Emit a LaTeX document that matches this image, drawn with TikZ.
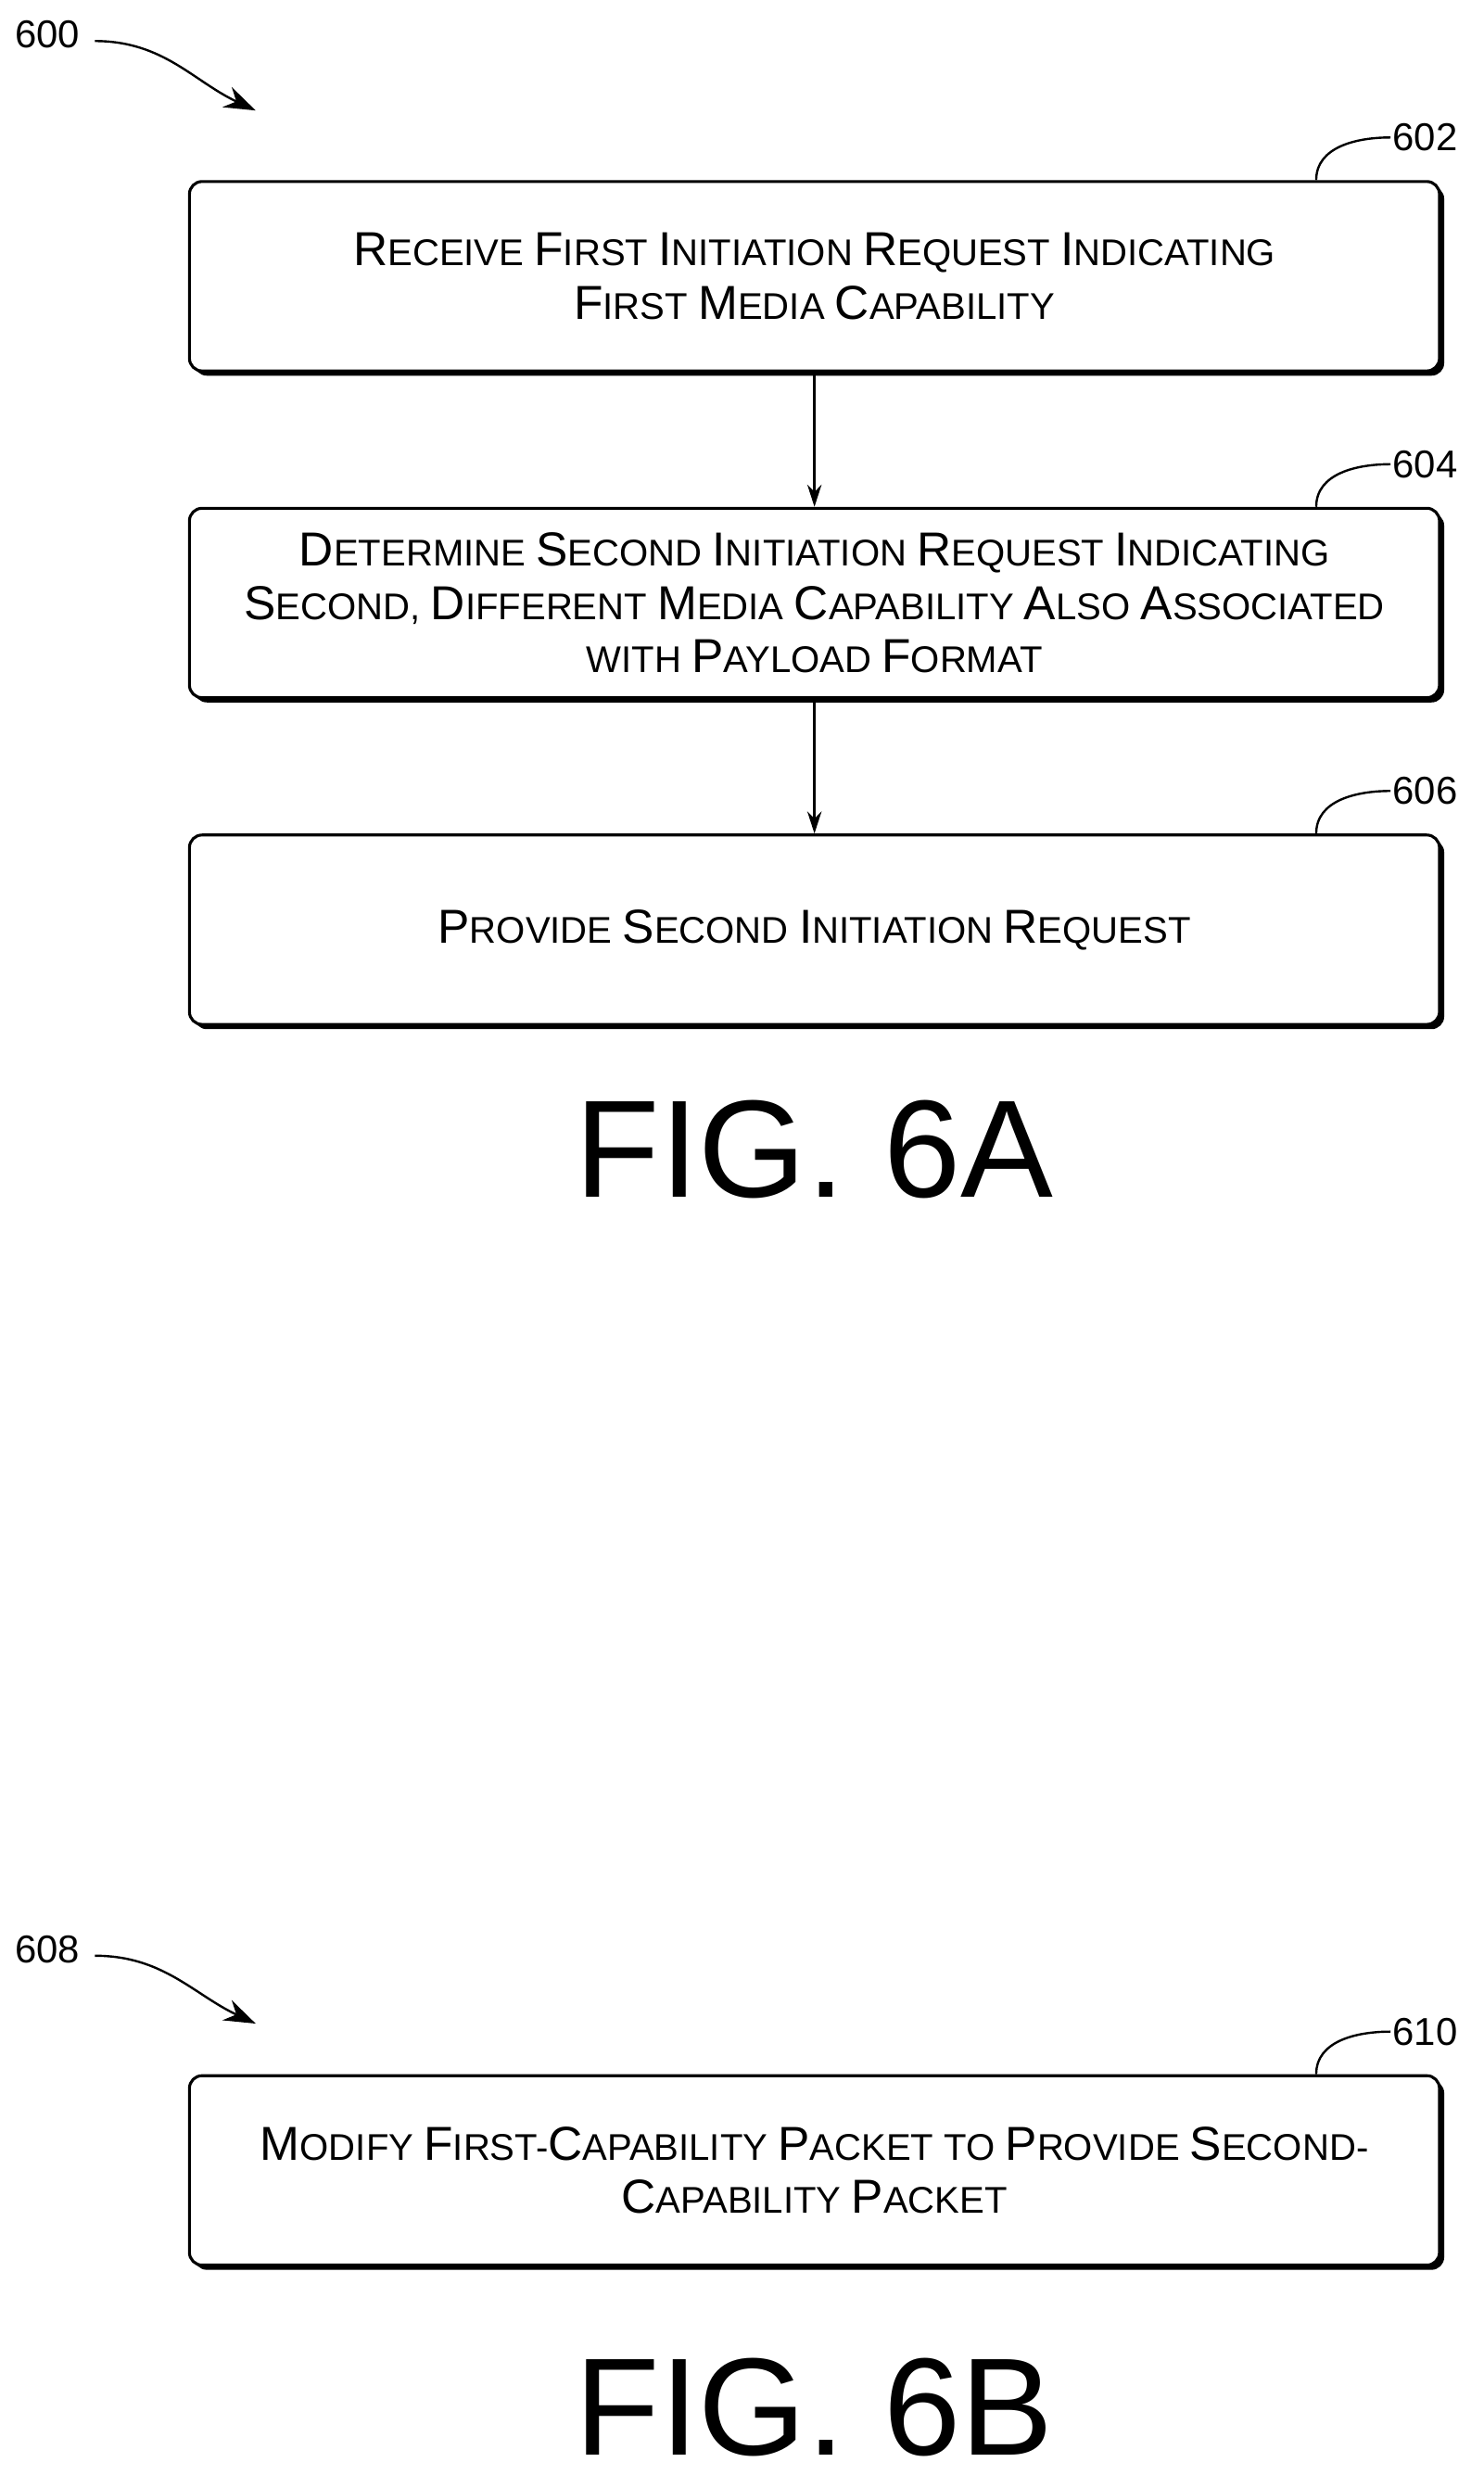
\documentclass[tikz,border=0pt]{standalone}
\usepackage{fontspec}
\setmainfont{Liberation Sans}
\usetikzlibrary{arrows.meta}
\newcommand\cw[2]{{\fontsize{43}{48}\selectfont #1}\MakeUppercase{#2}}
\tikzset{
  stepbox/.style={draw, line width=2.6pt, rounded corners=0.4cm, fill=white,
    minimum width=39.6cm, minimum height=6cm, align=center,
    font=\fontsize{33.5}{48}\selectfont},
  boxshadow/.style={fill=black, rounded corners=0.4cm, minimum width=39.6cm, minimum height=6cm},
  ref/.style={font=\fontsize{35}{40}\selectfont, anchor=west, inner sep=2pt},
  lead/.style={line width=2pt},
  flow/.style={-{Stealth[length=0.7cm,width=0.45cm]}, line width=2pt},
  fig/.style={font=\fontsize{125}{130}\selectfont}
}
\begin{document}
\begin{tikzpicture}[x=0.05cm,y=-0.05cm]
\useasboundingbox (0,0) rectangle (940,1568);

% shadows
\foreach \y in {175,382,589,1375}
  \node[boxshadow] at (519,\y+3) {};

% boxes
\node[stepbox] (box602) at (516,175) {\cw{R}{eceive} \cw{F}{irst} \cw{I}{nitiation} \cw{R}{equest} \cw{I}{ndicating}\\\cw{F}{irst} \cw{M}{edia} \cw{C}{apability}};
\node[stepbox] (box604) at (516,382) {\cw{D}{etermine} \cw{S}{econd} \cw{I}{nitiation} \cw{R}{equest} \cw{I}{ndicating}\\\cw{S}{econd}, \cw{D}{ifferent} \cw{M}{edia} \cw{C}{apability} \cw{A}{lso} \cw{A}{ssociated}\\\MakeUppercase{with} \cw{P}{ayload} \cw{F}{ormat}};
\node[stepbox] (box606) at (516,589) {\cw{P}{rovide} \cw{S}{econd} \cw{I}{nitiation} \cw{R}{equest}};
\node[stepbox] (box610) at (516,1375) {\cw{M}{odify} \cw{F}{irst}-\cw{C}{apability} \cw{P}{acket} \MakeUppercase{to} \cw{P}{rovide} \cw{S}{econd}-\\\cw{C}{apability} \cw{P}{acket}};

% flow arrows
\draw[flow] (box602) -- (box604);
\draw[flow] (box604) -- (box606);

% reference labels
\foreach \n in {602,604,606,610} {
  \node[ref] (l\n) at ([xshift=-1.6cm,yshift=1.35cm]box\n.north east) {\n};
  \draw[lead] ([xshift=-3.95cm]box\n.north east) to[out=90,in=180] (l\n.west);
}

% figure numbers
\node[ref] (l600) at (8,22) {600};
\node[ref] (l608) at (8,1235) {608};
\coordinate (p600) at (162,70);
\coordinate (p608) at (162,1282);
\draw[flow, -{Stealth[length=1cm,width=0.7cm]}] (l600.east) ++(8,4) to[out=0,in=155] (p600);
\draw[flow, -{Stealth[length=1cm,width=0.7cm]}] (l608.east) ++(8,4) to[out=0,in=155] (p608);

\node[fig] (fig6a) at (516,728) {FIG. 6A};
\node[fig] (fig6b) at (516,1525) {FIG. 6B};
\end{tikzpicture}
\end{document}
